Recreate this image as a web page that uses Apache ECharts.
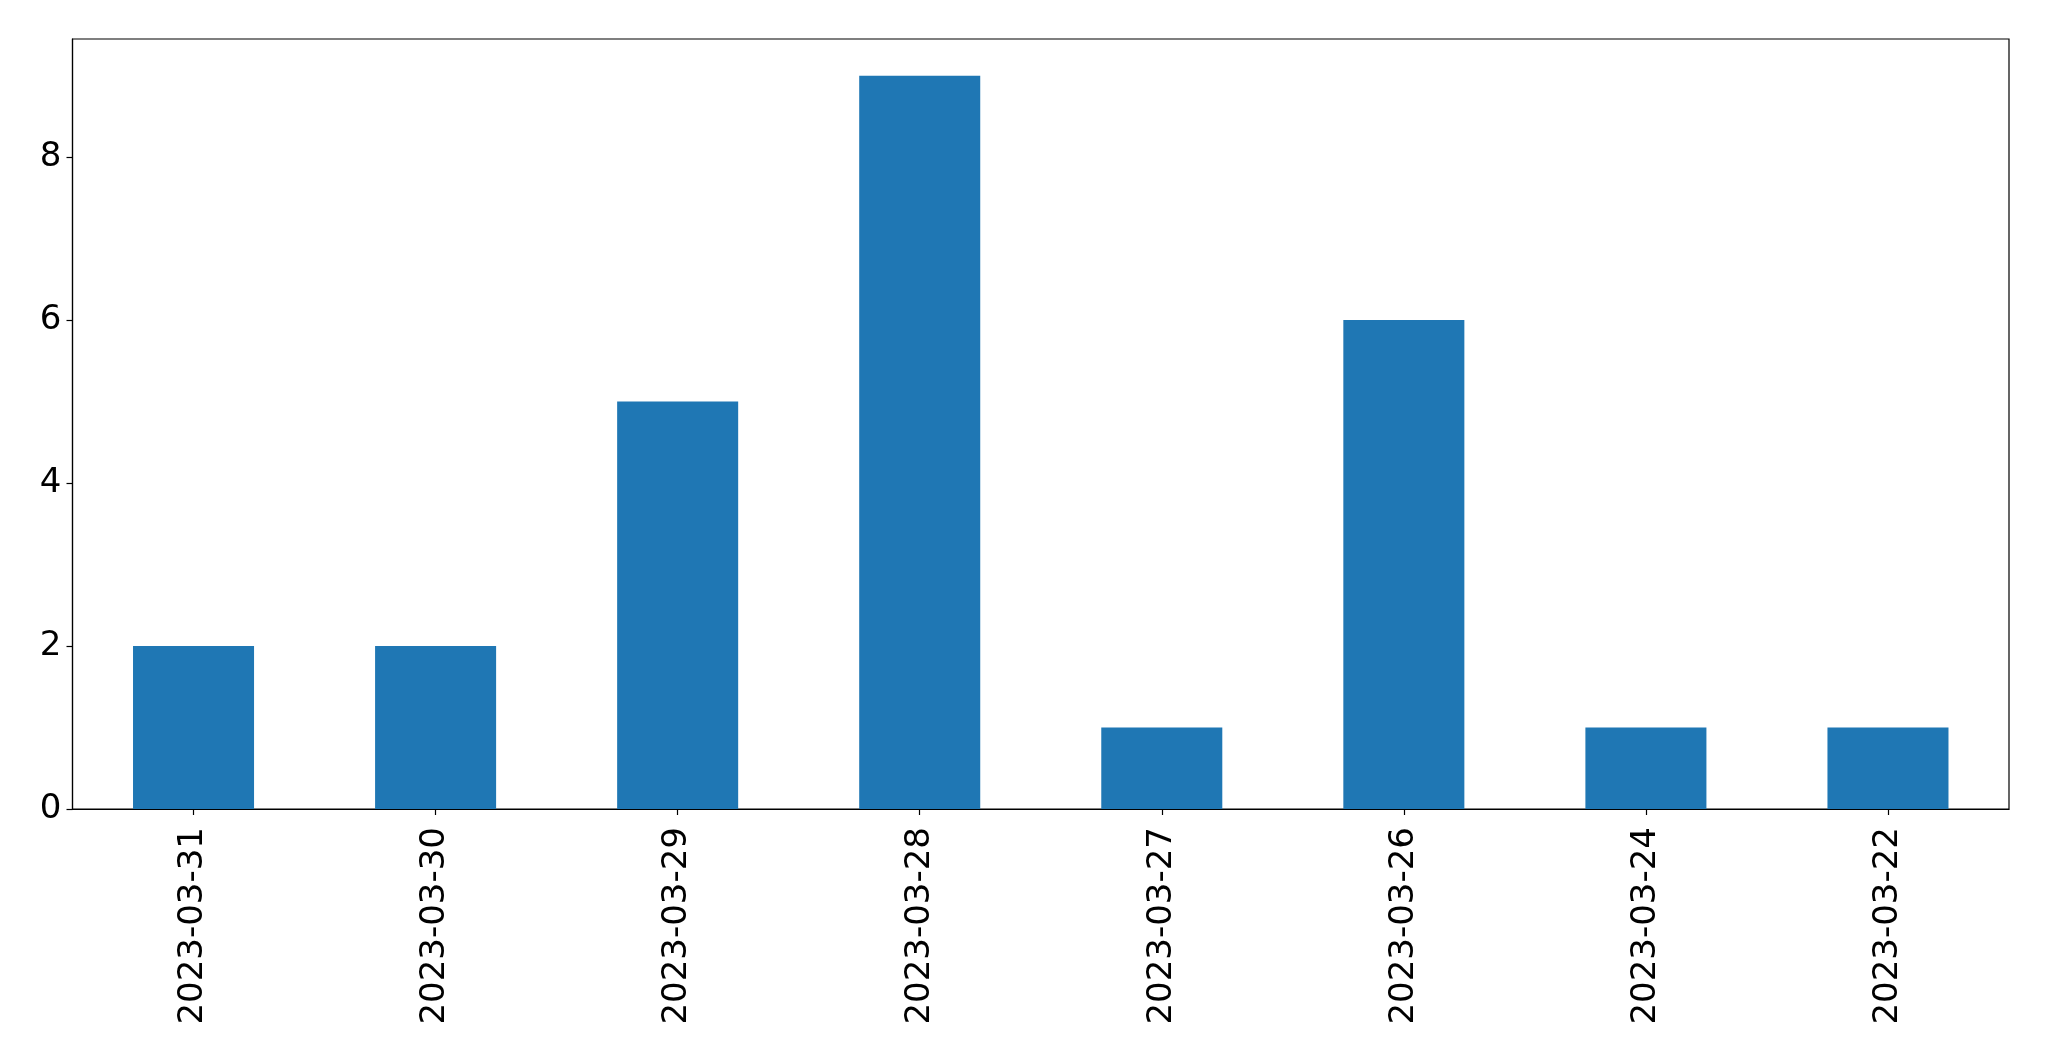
<!DOCTYPE html>
<html>
<head>
<meta charset="utf-8">
<script src="https://cdn.jsdelivr.net/npm/echarts@6/dist/echarts.min.js"></script>
<style>html,body{margin:0;padding:0;background:#fff}#c{width:2049px;height:1061px}</style>
</head>
<body>
<div id="c"></div>
<script>
const categories = ["2023-03-31","2023-03-30","2023-03-29","2023-03-28","2023-03-27","2023-03-26","2023-03-24","2023-03-22"];
const values = [2, 2, 5, 9, 1, 6, 1, 1];
const yTicks = [0, 2, 4, 6, 8];

const chart = echarts.init(document.getElementById('c'), null, {renderer: 'canvas'});
chart.setOption({
  animation: false,
  backgroundColor: '#ffffff',
  grid: {left: 72.5, right: 40, top: 39, bottom: 252, show: true, borderColor: '#000', borderWidth: 1.2, backgroundColor: 'transparent'},
  xAxis: {
    type: 'category',
    data: categories,
    boundaryGap: true,
    axisLine: {show: true, lineStyle: {color: '#000', width: 1.2}},
    axisTick: {show: true, alignWithLabel: true, length: 6, lineStyle: {color: '#000', width: 1.2}},
    axisLabel: {rotate: 90, margin: 18, color: '#000', fontSize: 34, fontFamily: 'DejaVu Sans', interval: 0},
    splitLine: {show: false}
  },
  yAxis: {
    type: 'value',
    min: 0,
    max: 9.45,
    interval: 2,
    axisLine: {show: true, lineStyle: {color: '#000', width: 1.2}},
    axisTick: {show: true, length: 6, lineStyle: {color: '#000', width: 1.2}},
    axisLabel: {margin: 11, color: '#000', fontSize: 34, fontFamily: 'DejaVu Sans',
      formatter: function(v){ return yTicks.indexOf(v) >= 0 ? String(v) : ''; }, showMaxLabel: false},
    splitLine: {show: false}
  },
  series: [{
    type: 'bar',
    data: values,
    barWidth: '50%',
    itemStyle: {color: '#1f77b4'}
  }]
});
</script>
</body>
</html>
